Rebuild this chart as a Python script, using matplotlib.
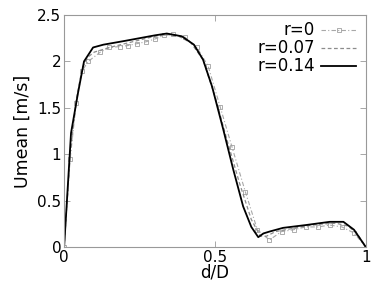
import matplotlib
matplotlib.use("Agg")
import matplotlib.pyplot as plt

# r=0 (dash-dot with squares)
d0 = [0, 0.02, 0.04, 0.06, 0.08, 0.12, 0.15, 0.185, 0.21, 0.24, 0.27, 0.30, 0.33, 0.36,
      0.40, 0.44, 0.477, 0.517, 0.556, 0.60, 0.64, 0.68, 0.72, 0.76, 0.80, 0.84, 0.88,
      0.92, 0.96, 1.0]
u0 = [0, 0.95, 1.55, 1.9, 2.0, 2.1, 2.15, 2.16, 2.17, 2.19, 2.21, 2.24, 2.28, 2.29,
      2.26, 2.15, 1.95, 1.51, 1.08, 0.60, 0.19, 0.08, 0.17, 0.19, 0.22, 0.22, 0.24,
      0.22, 0.155, 0.0]

# r=0.07 (dashed)
d07 = [0, 0.02, 0.04, 0.06, 0.08, 0.1, 0.15, 0.2, 0.25, 0.3, 0.34, 0.38, 0.42, 0.46,
       0.5, 0.54, 0.58, 0.62, 0.65, 0.67, 0.7, 0.75, 0.8, 0.85, 0.9, 0.94, 0.97, 1.0]
u07 = [0, 1.0, 1.58, 1.93, 2.05, 2.1, 2.15, 2.19, 2.23, 2.27, 2.29, 2.27, 2.2, 2.02,
       1.62, 1.15, 0.7, 0.3, 0.12, 0.12, 0.17, 0.2, 0.23, 0.25, 0.26, 0.23, 0.15, 0.0]

# r=0.14 (solid)
d14 = [0, 0.023, 0.046, 0.066, 0.096, 0.13, 0.2, 0.25, 0.3, 0.34, 0.39, 0.43, 0.46,
       0.49, 0.527, 0.56, 0.593, 0.62, 0.643, 0.66, 0.68, 0.725, 0.8, 0.88, 0.925,
       0.96, 1.0]
u14 = [0, 1.23, 1.66, 2.0, 2.15, 2.18, 2.22, 2.25, 2.28, 2.30, 2.27, 2.18, 2.02,
       1.73, 1.27, 0.84, 0.44, 0.22, 0.11, 0.15, 0.17, 0.21, 0.24, 0.275, 0.275,
       0.19, 0.0]

xticks = [0, 0.5, 1]
xticklabels = ["0", "0.5", "1"]
yticks = [0, 0.5, 1, 1.5, 2, 2.5]
yticklabels = ["0", "0.5", "1", "1.5", "2", "2.5"]

fig = plt.figure(figsize=(3.77, 2.87), dpi=100)
ax = fig.add_axes([0.170, 0.138, 0.801, 0.810])

ax.plot(d0, u0, color="#a8a8a8", lw=0.8, ls=(0, (4, 2, 1, 2)), marker="s",
        ms=2.5, mfc="none", mec="#a0a0a0", mew=0.6, label="r=0")
ax.plot(d07, u07, color="#8c8c8c", lw=0.9, ls=(0, (3, 2)), label="r=0.07")
ax.plot(d14, u14, color="black", lw=1.3, label="r=0.14")

ax.set_xlim(0, 1)
ax.set_ylim(0, 2.5)
ax.set_xticks(xticks)
ax.set_xticklabels(xticklabels)
ax.set_yticks(yticks)
ax.set_yticklabels(yticklabels)
ax.tick_params(direction="in", length=4, width=0.6, color="#999999",
               top=True, right=True, labelsize=11, pad=2)
for s in ax.spines.values():
    s.set_color("#999999")
    s.set_linewidth(0.8)

ax.set_xlabel("d/D", fontsize=12, labelpad=-1)
ax.set_ylabel("Umean [m/s]", fontsize=12.5, labelpad=4)

leg = ax.legend(loc="upper right", bbox_to_anchor=(1.0, 1.015), frameon=False,
                markerfirst=False, fontsize=12, handlelength=2.1, handletextpad=0.35,
                labelspacing=0.0, borderpad=0.1)
for t in leg.get_texts():
    t.set_ha("right")

fig.savefig("out.png", dpi=100)
